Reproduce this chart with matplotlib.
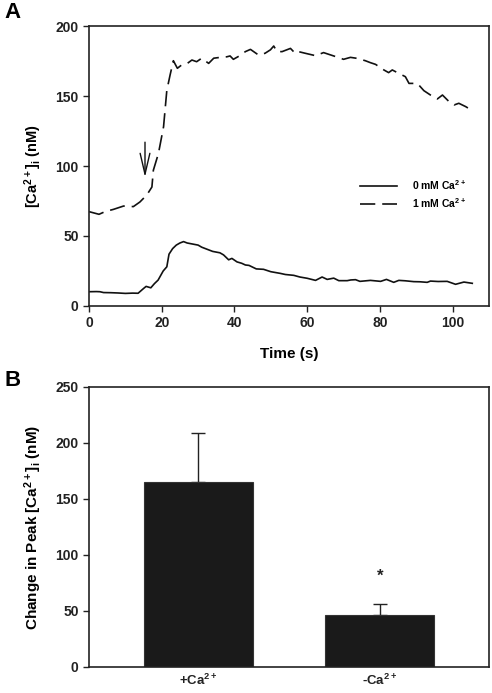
import matplotlib
matplotlib.use("Agg")
import matplotlib.pyplot as plt

plt.rcParams['font.family'] = ['Liberation Sans', 'DejaVu Sans']
plt.rcParams['font.weight'] = 'bold'
plt.rcParams['mathtext.fontset'] = 'custom'
plt.rcParams['mathtext.rm'] = 'Liberation Sans:bold'
plt.rcParams['mathtext.it'] = 'Liberation Sans:bold'
plt.rcParams['mathtext.bf'] = 'Liberation Sans:bold'
plt.rcParams['mathtext.default'] = 'bf'
plt.rcParams['lines.scale_dashes'] = False

# ---- Panel A data ----
t_0mM = [0, 2, 3, 4, 6, 8, 10, 12, 13.5, 15, 15.7, 17, 18, 19, 20.4, 21.4, 22, 23, 24, 25,
         26, 27, 28, 30, 31, 32, 34, 36, 37, 38.4, 39.3, 40.7, 42, 43, 44, 46, 48, 50, 52.6,
         54, 56.3, 58, 60, 62.3, 64.1, 65.5, 67.3, 68.7, 71, 72, 73.3, 74.5, 77.4, 80.2,
         81.8, 83.8, 85.2, 87, 89.3, 91, 93, 93.9, 96, 98.5, 100.8, 103.1, 105.4]
ca_0mM = [10.2, 10.3, 10.2, 9.6, 9.5, 9.3, 9.0, 9.2, 9.1, 12.5, 14, 13, 16, 18.5, 25, 28, 37,
          41, 43.5, 45, 46, 45, 44.5, 43.5, 42, 41, 39, 38, 36.5, 33, 34, 31.5, 30.5, 29.3,
          29, 26.5, 26.2, 24.5, 23.3, 22.5, 21.9, 20.7, 19.8, 18.3, 20.7, 19.0, 19.9, 18.1,
          18.1, 18.6, 18.8, 17.6, 18.3, 17.6, 19, 16.9, 18.3, 18, 17.4, 17.3, 16.9, 17.8,
          17.5, 17.6, 15.5, 17.1, 16.2]

t_1mM = [0, 2.75, 4.5, 6.7, 9.5, 12.2, 14, 15.9, 17.3, 17.7, 19.1, 20.5, 21.4, 22.3, 23.2,
         24.3, 25.5, 26.9, 28.3, 29.6, 31, 32.9, 34.3, 36.1, 37.9, 38.8, 39.7, 41.6, 43,
         44.4, 46.6, 48.4, 49.9, 50.8, 51.7, 53.1, 55.4, 56.7, 57.6, 59.5, 62.3, 64.5, 67.3,
         70, 71.9, 73.7, 76, 77.4, 78.8, 81.1, 82.4, 83.4, 84.8, 87, 88, 90.3, 92.1, 93.9,
         95.8, 97.2, 99, 100.4, 101.7, 103.6, 105.4]
ca_1mM = [67.4, 65.5, 67.5, 69, 71.4, 71, 74.3, 79.3, 85, 97, 109, 128, 154, 165, 175.2,
          169.8, 172.2, 173, 175.7, 174.5, 177, 173.3, 177, 177.6, 178, 178.6, 176.2, 179,
          181.7, 183.3, 179.3, 180.5, 183, 185.7, 181.7, 181.7, 184, 180.5, 181.7, 180.5,
          178.8, 181, 178.6, 176.2, 177.6, 176.9, 175.2, 173.8, 172.6, 168.6, 166.7, 168.6,
          166.7, 163.8, 159, 159, 153.8, 150.7, 147.9, 150.7, 146, 143.6, 144.8, 142.4, 139.5]

arrow_t = 15.4
arrow_from = 119
arrow_to = 90

# ---- Panel B data ----
groups = ['+Ca$^{2+}$', '-Ca$^{2+}$']
peak_change = [165.5, 46]
peak_err = [43, 10.5]

W, H = 492, 693
fig = plt.figure(figsize=(W / 100, H / 100), dpi=100)

axA = fig.add_axes([89 / W, 1 - 306 / H, 400 / W, 280 / H])
axB = fig.add_axes([89 / W, 1 - 667 / H, 400 / W, 280 / H])

lw_spine = 1.2
for ax in (axA, axB):
    for s in ax.spines.values():
        s.set_linewidth(lw_spine)
        s.set_color('#222222')
    ax.tick_params(direction='out', length=4, width=1.0, labelsize=10, colors='#222222',
                   labelcolor='#222222')

axA.plot(t_0mM, ca_0mM, color='#111111', lw=1.2, label='0 mM Ca$^{2+}$')
axA.plot(t_1mM, ca_1mM, color='#111111', lw=1.2, linestyle=(0, (11, 5)),
         label='1 mM Ca$^{2+}$')
axA.annotate('', xy=(arrow_t, arrow_to), xytext=(arrow_t, arrow_from),
             arrowprops=dict(arrowstyle='->,head_length=1.5,head_width=0.35',
                             color='#111111', lw=1.0))
axA.set_xlim(0, 110)
axA.set_ylim(0, 200)
axA.set_xticks([0, 20, 40, 60, 80, 100])
axA.set_yticks([0, 50, 100, 150, 200])
axA.set_xlabel('Time (s)', fontsize=11, fontweight='bold', labelpad=12)
axA.set_ylabel('[Ca$^{2+}$]$_i$ (nM)', fontsize=10.5, fontweight='bold', labelpad=8)
leg = axA.legend(loc='center left', bbox_to_anchor=(0.655, 0.40), frameon=False,
                 fontsize=7.5, handlelength=3.5, handletextpad=1.5, labelspacing=0.45)
for txt in leg.get_texts():
    txt.set_fontweight('bold')

xpos = [1, 2]
axB.bar(xpos, peak_change, width=0.6, color='#1a1a1a', edgecolor='#333333', lw=0.8,
        zorder=2)
axB.errorbar(xpos, peak_change, yerr=[[0, 0], peak_err], fmt='none', ecolor='#222222',
             elinewidth=1.0, capsize=5, capthick=1.0, zorder=1)
axB.text(2, peak_change[1] + peak_err[1] + 24.5, '*', ha='center', va='center',
         fontsize=12, fontweight='bold', color='#222222')
axB.set_xlim(0.4, 2.6)
axB.set_ylim(0, 250)
axB.set_yticks([0, 50, 100, 150, 200, 250])
axB.set_xticks(xpos)
axB.set_xticklabels(groups, fontsize=9.5, fontweight='bold')
axB.tick_params(axis='x', length=0, pad=4)
axB.set_ylabel('Change in Peak [Ca$^{2+}$]$_i$ (nM)', fontsize=11, fontweight='bold',
               labelpad=8)

for ax in (axA, axB):
    for lab in ax.get_xticklabels() + ax.get_yticklabels():
        lab.set_fontweight('bold')

fig.text(4 / W, 1 - 12 / H, 'A', fontsize=16, fontweight='bold', va='center', ha='left')
fig.text(4 / W, 1 - 381 / H, 'B', fontsize=16, fontweight='bold', va='center', ha='left')

fig.savefig('out.png', dpi=100)
